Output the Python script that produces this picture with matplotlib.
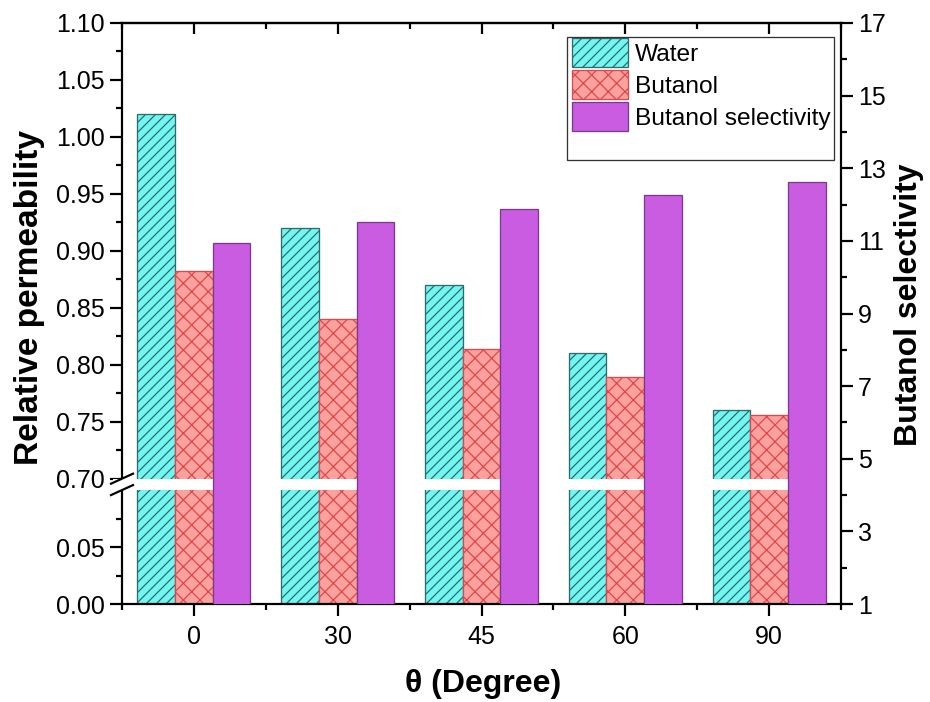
import numpy as np
import matplotlib
matplotlib.use('Agg')
import matplotlib.pyplot as plt
from matplotlib.patches import Patch, Rectangle
from matplotlib.lines import Line2D

# ---------------- data ----------------
angles = ['0', '30', '45', '60', '90']
water = [1.020, 0.920, 0.870, 0.810, 0.760]
butanol = [0.882, 0.840, 0.814, 0.789, 0.756]
selectivity = [10.94, 11.52, 11.88, 12.26, 12.62]

left_major = [0.00, 0.05, 0.70, 0.75, 0.80, 0.85, 0.90, 0.95, 1.00, 1.05, 1.10]
left_minor = [0.025, 0.075, 0.725, 0.775, 0.825, 0.875, 0.925, 0.975, 1.025, 1.075]
right_major = [1, 3, 5, 7, 9, 11, 13, 15, 17]
right_minor = [2, 4, 6, 8, 10, 12, 14, 16]
legend_labels = ['Water', 'Butanol', 'Butanol selectivity']

# ---------------- style ----------------
DPI = 150
W_PX, H_PX = 930, 702
plt.rcParams['font.family'] = ['Liberation Sans', 'DejaVu Sans']
plt.rcParams['hatch.linewidth'] = 0.6

def pt(px):
    return px * 72.0 / DPI

c_water, e_water = '#72F6F2', '#2E6B6B'
c_but, e_but = '#FBA29E', '#E0474C'
c_sel, e_sel = '#CA5CE2', '#7A3A8C'
h_water, h_but = '/////', 'xxx'

# broken-axis scale
LOW, HIGH, GAP = 0.1, 0.7, 0.01

def fwd(v):
    v = np.asarray(v, dtype=float)
    return np.where(v <= LOW, v,
                    np.where(v >= HIGH, v - (HIGH - LOW) + GAP,
                             LOW + (v - LOW) * GAP / (HIGH - LOW)))

def inv(c):
    c = np.asarray(c, dtype=float)
    return np.where(c <= LOW, c,
                    np.where(c >= LOW + GAP, c + (HIGH - LOW) - GAP,
                             LOW + (c - LOW) * (HIGH - LOW) / GAP))

fig = plt.figure(figsize=(W_PX / DPI, H_PX / DPI), dpi=DPI)
L, R, T, B = 122, 841, 23, 604
ax1 = fig.add_axes([L / W_PX, 1 - B / H_PX, (R - L) / W_PX, (B - T) / H_PX])
ax1.set_yscale('function', functions=(fwd, inv))

x = np.arange(len(angles))
w = 0.262
ax1.bar(x - w, water, width=w, color=c_water, edgecolor=e_water, hatch=h_water,
        linewidth=pt(1.3), zorder=1)
ax1.bar(x, butanol, width=w, color=c_but, edgecolor=e_but, hatch=h_but,
        linewidth=pt(1.3), zorder=1)

ax1.set_xlim(-0.5, 4.49)
ax1.set_ylim(0, 1.10)
ax1.set_yticks(left_major)
ax1.set_yticklabels([f'{v:.2f}' for v in left_major])
ax1.set_yticks(left_minor, minor=True)
ax1.set_xticks(x)
ax1.set_xticklabels(angles)
ax1.set_xticks(np.arange(-0.5, 4.6, 1.0), minor=True)

spw = pt(2.2)
for s in ['left', 'bottom', 'top']:
    ax1.spines[s].set_linewidth(spw)
ax1.spines['right'].set_visible(False)

fs_tick = pt(25)
ax1.tick_params(axis='both', which='major', direction='out', length=pt(12),
                width=spw, labelsize=fs_tick, pad=pt(5))
ax1.tick_params(axis='both', which='minor', direction='out', length=pt(6),
                width=spw)
ax1.tick_params(axis='x', which='major', pad=pt(9))
ax1.tick_params(axis='y', which='both', right=False)

# white gap band of the axis break
ax1.axhspan(LOW + 0.0005, HIGH - 0.002, xmin=-0.012, xmax=1.0, color='white',
            zorder=3, clip_on=False, linewidth=0)

# top ticks pointing inward
sec = ax1.secondary_xaxis('top')
sec.set_xticks(x)
sec.set_xticks(np.arange(-0.5, 4.6, 1.0), minor=True)
sec.tick_params(axis='x', which='major', direction='in', length=pt(11),
                width=spw, labeltop=False)
sec.tick_params(axis='x', which='minor', direction='in', length=pt(6),
                width=spw, labeltop=False)
sec.spines['top'].set_linewidth(spw)

# right axis
ax2 = ax1.twinx()
ax2.bar(x + w, selectivity, width=w, color=c_sel, edgecolor=e_sel,
        linewidth=pt(1.3), zorder=2)
ax2.set_ylim(1, 17)
ax2.set_yticks(right_major)
ax2.set_yticks(right_minor, minor=True)
for s in ['left', 'top', 'bottom']:
    ax2.spines[s].set_visible(False)
ax2.spines['right'].set_linewidth(spw)
ax2.tick_params(axis='y', which='major', direction='out', length=pt(12),
                width=spw, labelsize=fs_tick, pad=pt(5))
ax2.tick_params(axis='y', which='minor', direction='out', length=pt(6),
                width=spw)

# break marks on the left spine
fig.canvas.draw()
to_fig = fig.transFigure.inverted()
for yv in [HIGH, LOW]:
    xd, yd = ax1.transData.transform((-0.5, yv))
    p0 = to_fig.transform((xd - 11, yd - 5))
    p1 = to_fig.transform((xd + 11, yd + 5))
    fig.add_artist(Line2D([p0[0], p1[0]], [p0[1], p1[1]], color='black',
                          linewidth=spw, transform=fig.transFigure, zorder=5))

# legend
handles = [Patch(facecolor=c_water, edgecolor=e_water, hatch=h_water, linewidth=pt(1.3)),
           Patch(facecolor=c_but, edgecolor=e_but, hatch=h_but, linewidth=pt(1.3)),
           Patch(facecolor=c_sel, edgecolor=e_sel, linewidth=pt(1.3))]
fs_leg = pt(24.5)
leg = ax2.legend(handles, legend_labels, loc='upper left',
                 bbox_to_anchor=(572 / W_PX, 1 - 38 / H_PX),
                 bbox_transform=fig.transFigure, frameon=False,
                 fontsize=fs_leg, handlelength=56 / 24.5, handleheight=1.45,
                 handletextpad=0.3, labelspacing=0.12, borderpad=0,
                 borderaxespad=0)
fig.add_artist(Rectangle((567 / W_PX, 1 - 160 / H_PX), 267 / W_PX, 123 / H_PX,
                         transform=fig.transFigure, facecolor='none',
                         edgecolor='#333333', linewidth=pt(1.3), zorder=4))

# axis titles
fig.text(30 / W_PX, 1 - 297 / H_PX, 'Relative permeability', rotation=90,
         ha='center', va='center', fontsize=pt(33.5), fontweight='bold')
fig.text(909 / W_PX, 1 - 305 / H_PX, 'Butanol selectivity', rotation=90,
         ha='center', va='center', fontsize=pt(32), fontweight='bold')
fig.text(483 / W_PX, 1 - 684 / H_PX, 'θ (Degree)', ha='center', va='center',
         fontsize=pt(32), fontweight='bold')

fig.savefig('out.png', dpi=DPI, facecolor='white')
